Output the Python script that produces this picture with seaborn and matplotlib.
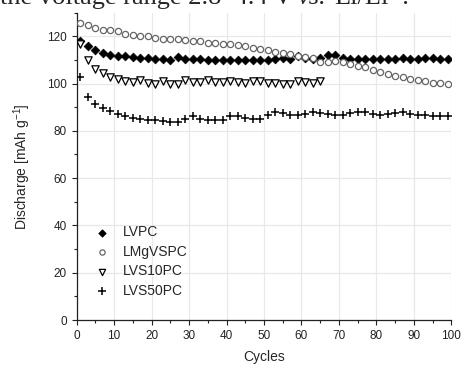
import numpy as np
import pandas as pd
import matplotlib
matplotlib.use("Agg")
import matplotlib.pyplot as plt
import seaborn as sns
from matplotlib.ticker import MultipleLocator

cycles = list(range(1, 100, 2))
cycles_s10 = list(range(1, 66, 2))

lvpc = [118.0, 115.7, 114.0, 113.0, 112.2, 111.8, 111.5, 111.1, 110.8, 110.6,
        110.4, 110.3, 110.0, 111.4, 110.2, 110.2, 110.2, 110.1, 110.1, 110.0,
        110.0, 110.0, 110.0, 109.8, 109.8, 110.0, 110.2, 110.6, 110.2, 111.8,
        110.6, 110.3, 110.8, 112.2, 112.0, 110.6, 110.5, 110.5, 110.5, 110.5,
        110.5, 110.5, 110.5, 110.6, 110.5, 110.5, 110.6, 110.6, 110.5, 110.5]
lmgvspc = [125.5, 124.7, 123.3, 122.8, 122.5, 122.2, 120.8, 120.4, 120.1, 119.9,
           119.4, 119.0, 119.0, 118.7, 118.3, 118.0, 117.8, 117.3, 117.0, 116.9,
           116.6, 116.2, 115.9, 115.2, 114.7, 114.0, 113.4, 112.8, 112.3, 111.8,
           111.3, 110.6, 109.2, 109.2, 109.4, 108.9, 108.2, 107.5, 106.8, 105.8,
           104.8, 103.9, 103.2, 102.7, 102.0, 101.4, 101.0, 100.4, 100.2, 99.7]
lvs10pc = [116.6, 109.8, 106.3, 104.6, 102.6, 101.8, 101.0, 100.5, 101.5, 100.4,
           99.6, 100.9, 99.8, 99.7, 101.6, 100.5, 100.7, 101.3, 100.7, 100.7,
           101.1, 100.7, 100.4, 101.1, 101.1, 100.2, 100.1, 99.8, 99.7, 101.1,
           100.7, 100.4, 101.1]
lvs50pc = [102.8, 94.3, 91.4, 89.8, 88.2, 87.3, 86.3, 85.4, 84.9, 84.6,
           84.5, 84.2, 83.9, 83.9, 84.9, 86.2, 84.9, 84.5, 84.5, 84.5,
           86.3, 86.3, 85.6, 85.2, 84.9, 86.7, 88.0, 87.4, 86.7, 86.7,
           87.3, 88.0, 87.7, 87.3, 86.7, 86.7, 87.7, 88.0, 88.0, 87.3,
           86.6, 87.0, 87.7, 88.0, 87.3, 86.6, 86.5, 86.4, 86.4, 86.4]

labels = ["LVPC", "LMgVSPC", "LVS10PC", "LVS50PC"]
caption_parts = ["the voltage range 2.8–4.4 V", "vs.", "Li/Li⁺."]

sns.set_style("ticks")
plt.rcParams['font.family'] = ['Liberation Sans', 'DejaVu Sans']
plt.rcParams['mathtext.fontset'] = 'custom'
plt.rcParams['mathtext.rm'] = 'Liberation Sans'
plt.rcParams['mathtext.it'] = 'Liberation Sans:italic'

W, H = 461, 368
fig = plt.figure(figsize=(W / 100, H / 100), dpi=100)
ax = fig.add_axes([0.1664, 0.1304, 0.979 - 0.1664, 0.9658 - 0.1304])

styles = [
    dict(marker="D", s=20, color="black", edgecolor="black", linewidth=0.5),
    dict(marker="o", s=20, facecolor="white", edgecolor="#666666", linewidth=0.9),
    dict(marker="v", s=28, facecolor="white", edgecolor="black", linewidth=0.9),
    dict(marker="+", s=40, color="black", linewidth=1.1),
]
xs = [cycles, cycles, cycles_s10, cycles]
ys = [lvpc, lmgvspc, lvs10pc, lvs50pc]

for x, y, lab, st in zip(xs, ys, labels, styles):
    df = pd.DataFrame({"Cycles": x, "Discharge": y})
    sns.scatterplot(data=df, x="Cycles", y="Discharge", ax=ax, label=lab, zorder=3, **st)

ax.set_xlim(0, 100)
ax.set_ylim(0, 130)
ax.xaxis.set_major_locator(MultipleLocator(10))
ax.xaxis.set_minor_locator(MultipleLocator(5))
ax.yaxis.set_major_locator(MultipleLocator(20))
ax.yaxis.set_minor_locator(MultipleLocator(10))
ax.grid(True, which="major", color="#e8e8e8", linewidth=0.9, zorder=0)
ax.set_axisbelow(True)
ax.tick_params(which="major", direction="out", length=3.6, width=0.8, labelsize=8.5, pad=3.5, colors="#222222", labelcolor="#222222")
ax.tick_params(which="minor", direction="out", length=2.2, width=0.8, colors="#222222")
for sp in ["top", "right"]:
    ax.spines[sp].set_visible(False)
for sp in ["left", "bottom"]:
    ax.spines[sp].set_color("#222222")
    ax.spines[sp].set_linewidth(0.9)

ax.set_xlabel("Cycles", fontsize=10, labelpad=6)
ax.set_ylabel(r"Discharge [mAh g$^{-1}$]", fontsize=10, labelpad=10)

leg = ax.legend(loc="center left", bbox_to_anchor=(0.048, 0.19), frameon=False,
                fontsize=10, handlelength=1.0, handletextpad=1.0, borderpad=0,
                borderaxespad=0, labelspacing=0.4, scatterpoints=1, markerscale=0.85)

# caption fragment at the top, placed piece by piece
serif = ["Liberation Serif", "DejaVu Serif"]
base_y = 1 - 4.0 / H
fig.canvas.draw()
renderer = fig.canvas.get_renderer()
x_px = 0.0
gaps = [5.0, 8.0, 0.0]
sty = ["normal", "italic", "normal"]
for part, g, st in zip(caption_parts, gaps, sty):
    t = fig.text(x_px / W, base_y, part, fontsize=19, family=serif, style=st,
                 va="baseline", ha="left")
    bb = t.get_window_extent(renderer=renderer)
    x_px = bb.x1 + g

fig.savefig("out.png", dpi=100)
